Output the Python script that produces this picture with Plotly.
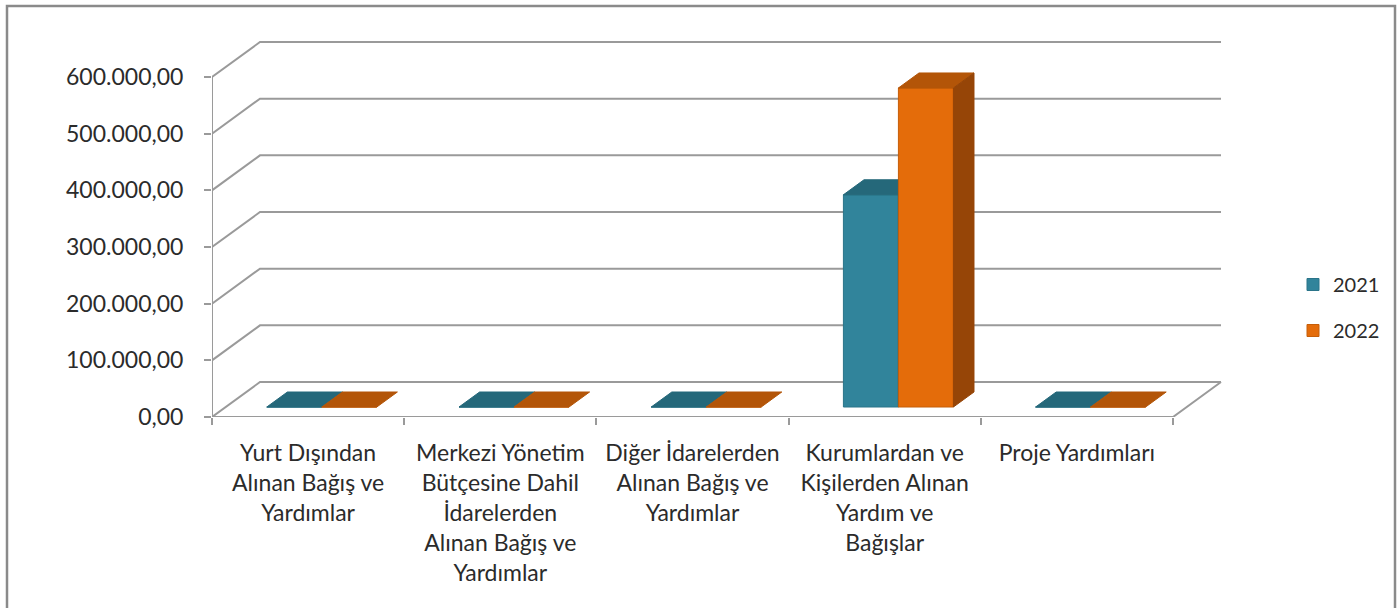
import plotly.graph_objects as go

# ---------------- data ----------------
categories = [
    "Yurt Dışından<br>Alınan Bağış ve<br>Yardımlar",
    "Merkezi Yönetim<br>Bütçesine Dahil<br>İdarelerden<br>Alınan Bağış ve<br>Yardımlar",
    "Diğer İdarelerden<br>Alınan Bağış ve<br>Yardımlar",
    "Kurumlardan ve<br>Kişilerden Alınan<br>Yardım ve<br>Bağışlar",
    "Proje Yardımları",
]
series_names = ["2021", "2022"]
values_2021 = [0, 0, 0, 374500, 0]
values_2022 = [0, 0, 0, 563000, 0]
y_tick_values = [0, 100000, 200000, 300000, 400000, 500000, 600000]
y_tick_labels = ["0,00", "100.000,00", "200.000,00", "300.000,00",
                 "400.000,00", "500.000,00", "600.000,00"]

# ---------------- styles / geometry ----------------
W, H = 1400, 608
FONT = "Lato"
TXT = "#2b2b2b"
GRID = "#9a9a9a"
front_colors = ["#31849B", "#E46C0A"]
top_colors = ["#25687A", "#B35508"]
side_colors = ["#1F5666", "#964507"]
edge_colors = ["#2A7489", "#C65E08"]

FL, FR = 212, 1173          # front floor left/right (px)
FY0, FYT = 417, 77          # front y of 0 and of top tick (px)
DXP, DYP = 48, 35           # depth offset of the back wall (px)
ML, MR, MB, MT = 212, 176, 191, 25

n = len(categories)
px_per_cat = (FR - FL) / n
px_per_val = (FY0 - FYT) / y_tick_values[-1]
plot_w = W - ML - MR
plot_h = H - MT - MB
x_range = [-0.5, -0.5 + plot_w / px_per_cat]
y_range = [0, plot_h / px_per_val]
DX = DXP / px_per_cat
DY = DYP / px_per_val
f_front = 10 / 35      # bar front position in depth
f_depth = 15 / 35      # bar depth
bar_w = 55 / px_per_cat
x0, x1 = -0.5, n - 0.5

fig = go.Figure()

# ---------------- walls / gridlines ----------------
shapes = []
for v in y_tick_values:
    shapes.append(dict(type="path", xref="x", yref="y", layer="below",
                       path=f"M {x0},{v} L {x0+DX},{v+DY} L {x1+DX},{v+DY}",
                       line=dict(color=GRID, width=2)))
# floor front + right edge, front vertical axis
shapes.append(dict(type="path", xref="x", yref="y", layer="below",
                   path=f"M {x0},{y_tick_values[-1]} L {x0},0 L {x1},0 L {x1+DX},{DY}",
                   line=dict(color=GRID, width=2)))

# chart border
def px2paper_x(p):
    return (p - ML) / plot_w

def px2paper_y(p):
    return (H - MB - p) / plot_h

shapes.append(dict(type="rect", xref="paper", yref="paper", layer="above",
                   x0=px2paper_x(7), x1=px2paper_x(1395),
                   y0=px2paper_y(640), y1=px2paper_y(6),
                   line=dict(color="#8a8a8a", width=2.5), fillcolor="rgba(0,0,0,0)"))

# ---------------- bars ----------------
all_values = [values_2021, values_2022]
axes = [("x", "y"), ("x2", "y2")]
for k, (name, vals) in enumerate(zip(series_names, all_values)):
    sgn = -1 if k == 0 else 1
    base = DY * f_front
    cx = [i + DX * f_front + sgn * bar_w / 2 for i in range(n)]
    xa, ya = axes[k]
    fig.add_trace(go.Bar(
        x=cx, y=vals, base=[base] * n, width=bar_w, name=name,
        marker=dict(color=front_colors[k], line=dict(color=edge_colors[k], width=1)),
        xaxis=xa, yaxis=ya, legendgroup=name, hoverinfo="skip",
    ))
    tx, ty = [], []
    sx, sy = [], []
    for c, v in zip(cx, vals):
        xl, xr = c - bar_w / 2, c + bar_w / 2
        top = base + v
        ddx, ddy = DX * f_depth, DY * f_depth
        tx += [xl, xr, xr + ddx, xl + ddx, xl, None]
        ty += [top, top, top + ddy, top + ddy, top, None]
        if v > 0:
            sx += [xr, xr, xr + ddx, xr + ddx, xr, None]
            sy += [base, top, top + ddy, base + ddy, base, None]
    fig.add_trace(go.Scatter(x=tx, y=ty, mode="lines", fill="toself",
                             fillcolor=top_colors[k], line=dict(color=top_colors[k], width=1),
                             xaxis=xa, yaxis=ya, showlegend=False, hoverinfo="skip"))
    if sx:
        fig.add_trace(go.Scatter(x=sx, y=sy, mode="lines", fill="toself",
                                 fillcolor=side_colors[k], line=dict(color=side_colors[k], width=1),
                                 xaxis=xa, yaxis=ya, showlegend=False, hoverinfo="skip"))

fig.update_layout(
    width=W, height=H,
    margin=dict(l=ML, r=MR, t=MT, b=MB, autoexpand=False),
    paper_bgcolor="white", plot_bgcolor="rgba(0,0,0,0)",
    font=dict(family=FONT, color=TXT, size=23),
    barmode="overlay",
    shapes=shapes,
    showlegend=True,
    hovermode=False,
    legend=dict(x=px2paper_x(1293), y=px2paper_y(265), xanchor="left", yanchor="top",
                font=dict(size=20, family=FONT, color=TXT), tracegroupgap=17,
                bgcolor="rgba(0,0,0,0)"),
    xaxis=dict(range=x_range, showgrid=False, zeroline=False, showline=False,
               automargin=False, fixedrange=True,
               tickmode="array", tickvals=list(range(n)), ticktext=categories,
               ticks="", ticklabelstandoff=20,
               tickfont=dict(size=23, family=FONT, color=TXT),
               minor=dict(tickmode="array",
                          tickvals=[i - 0.5 for i in range(n + 1)],
                          ticks="outside", ticklen=7, tickcolor=GRID, tickwidth=2,
                          showgrid=False)),
    yaxis=dict(range=y_range, showgrid=False, zeroline=False, showline=False,
               automargin=False, fixedrange=True,
               tickmode="array", tickvals=y_tick_values, ticktext=y_tick_labels,
               ticks="outside", ticklen=7, tickcolor=GRID, tickwidth=2,
               ticklabelstandoff=16,
               tickfont=dict(size=23, family=FONT, color=TXT)),
    xaxis2=dict(range=x_range, overlaying="x", visible=False, fixedrange=True),
    yaxis2=dict(range=y_range, overlaying="y", visible=False, fixedrange=True),
)

fig.write_html("out.html", config={"displayModeBar": False},
               post_script="document.body.style.margin='0';")
